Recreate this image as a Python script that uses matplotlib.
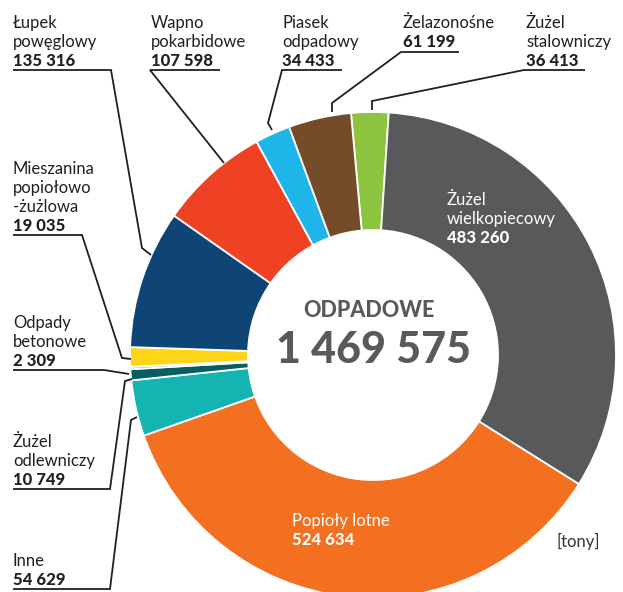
import matplotlib
matplotlib.use("Agg")
import matplotlib.pyplot as plt

plt.rcParams['font.family'] = ['Lato', 'DejaVu Sans']

# ---- data ----
categories = ["Żużel\nstalowniczy", "Żużel\nwielkopiecowy", "Popioły lotne", "Inne",
              "Żużel\nodlewniczy", "Odpady\nbetonowe", "Mieszanina\npopiołowo\n-żużlowa",
              "Łupek\npowęglowy", "Wapno\npokarbidowe", "Piasek\nodpadowy", "Żelazonośne"]
values = [36413, 483260, 524634, 54629, 10749, 2309, 19035, 135316, 107598, 34433, 61199]
colors = ["#8cc43f", "#58595b", "#f37021", "#14b4b2", "#075e60", "#8a8a8a", "#fdd418",
          "#0e4574", "#ef4123", "#1eb5e9", "#754c29"]
center_title = "ODPADOWE"
unit = "[tony]"

W, H = 623, 592


def fmt(v):
    return f"{v:,}".replace(",", " ")


def Y(y):
    return H - y


fig = plt.figure(figsize=(W / 100, H / 100), dpi=100)
ax = fig.add_axes([0, 0, 1, 1])

cx, cy, R, ring = 373, 355, 243, 118
ax.pie(values, colors=colors, startangle=95.2, counterclock=False,
       center=(cx, Y(cy)), radius=R,
       wedgeprops=dict(width=ring, edgecolor="white", linewidth=1.3))
ax.set_xlim(0, W)
ax.set_ylim(0, H)
ax.set_aspect("equal")
ax.axis("off")

TXT = "#231f20"
FS = 12
LS = 19
NUMW = "black"

# outside labels: index -> (x, first baseline, leader polyline in px from top)
outside = {
    7: (13, 28, [(13, 70), (111, 70), (142, 248), (151, 255)]),
    8: (151, 28, [(220, 70), (150, 70), (224, 163)]),
    9: (282, 28, [(342, 70), (282, 70), (268, 123), (272, 130)]),
    10: (403, 28, [(459, 52), (401, 52), (332, 103), (332, 112)]),
    0: (526, 28, [(585, 70), (524, 70), (372, 101), (372, 110)]),
    6: (13, 174, [(13, 235), (82, 235), (122, 358), (131, 359)]),
    5: (13, 328, [(13, 370), (104, 370), (129, 374)]),
    4: (13, 447, [(13, 489), (110, 489), (125, 381), (132, 379)]),
    3: (13, 566, [(13, 589), (110, 589), (131, 420), (137, 417)]),
}

for i, (x, yb, pts) in outside.items():
    lines = categories[i].split("\n")
    for k, ln in enumerate(lines):
        ax.text(x, Y(yb + k * LS), ln, fontsize=FS, color=TXT, ha="left", va="baseline")
    ax.text(x, Y(yb + len(lines) * LS), fmt(values[i]), fontsize=FS, color=TXT,
            fontweight=NUMW, ha="left", va="baseline")
    ax.plot([p[0] for p in pts], [Y(p[1]) for p in pts], color=TXT, lw=1.3,
            solid_joinstyle="miter", solid_capstyle="butt")

# inside labels
inside = {1: (447, 205), 2: (292, 526)}
for i, (x, yb) in inside.items():
    lines = categories[i].split("\n")
    for k, ln in enumerate(lines):
        ax.text(x, Y(yb + k * LS), ln, fontsize=FS, color="white", ha="left", va="baseline")
    ax.text(x, Y(yb + len(lines) * LS), fmt(values[i]), fontsize=FS, color="white",
            fontweight=NUMW, ha="left", va="baseline")

# center
ax.text(369, Y(317), center_title, fontsize=15.5, fontweight=NUMW, color="#58595b",
        ha="center", va="baseline")
ax.text(374, Y(363), fmt(sum(values)), fontsize=31, fontweight=NUMW, color="#58595b",
        ha="center", va="baseline")

ax.text(557, Y(547), unit, fontsize=FS, color="#333333", ha="left", va="baseline")

fig.savefig("out.png", dpi=100)
